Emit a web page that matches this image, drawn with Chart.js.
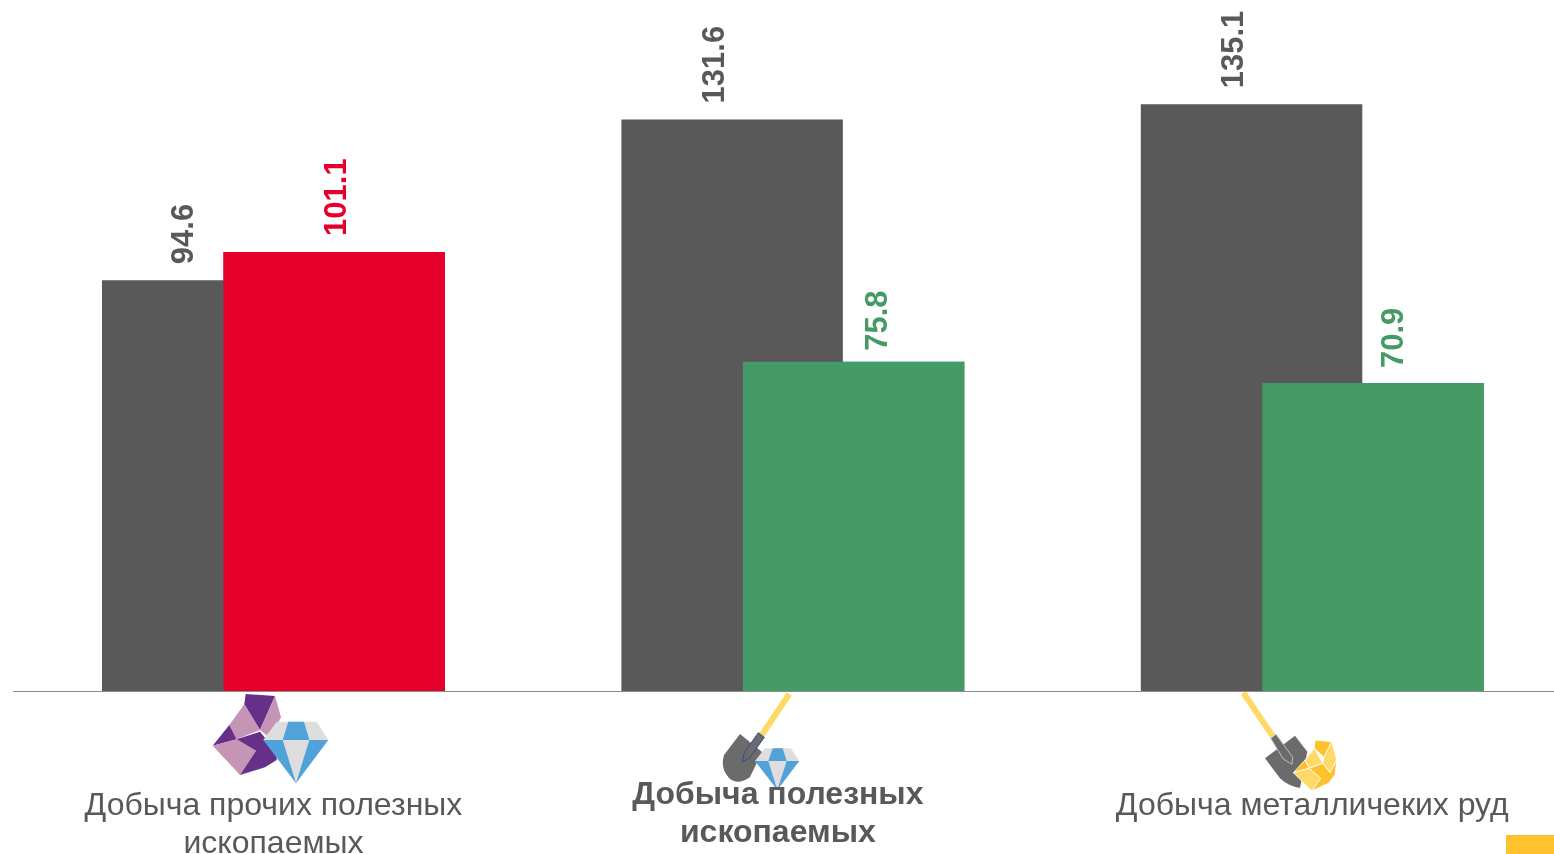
<!DOCTYPE html>
<html lang="ru">
<head>
<meta charset="utf-8">
<title>Добыча полезных ископаемых</title>
<script src="https://cdn.jsdelivr.net/npm/chart.js@4"></script>
<style>
  html, body { margin: 0; height: 100%; overflow: hidden; background: #fff; }
  #icons, #chart { position: absolute; left: 0; top: 0; }
  #marker { position: absolute; left: 1506px; top: 835px; width: 48px; height: 19px; background: #FFC12D; }
</style>
</head>
<body>
<!-- pictograms sit under the transparent canvas: the bold label runs over the diamond -->
<svg id="icons" width="1554" height="854" viewBox="0 0 1554 854">
  <g><!-- rock + diamond -->
    <polygon fill="#663089" points="245.7,694 275,696 260,730 244.3,704.3"/>
    <polygon fill="#C695B6" points="275,696 281,717.3 270,738 260,730"/>
    <polygon fill="#C695B6" points="244.3,704.3 260,730 236.7,739.3 229.3,725"/>
    <polygon fill="#663089" points="229.3,725 236.7,739.3 212.7,745.7"/>
    <polygon fill="#C695B6" points="212.7,745.7 236.7,739.3 256,750.7 240,775"/>
    <polygon fill="#663089" points="236.7,739.3 260,731.7 276.7,751.7 276.7,760 265,767.3 240,775 256,750.7"/>
    <polygon fill="#DEDEDE" points="276.7,721.7 316.7,721.7 328.3,740 263.3,740"/>
    <polygon fill="#52A2DA" points="288.3,721.7 304,721.7 309.3,740 282.7,740"/>
    <polygon fill="#52A2DA" points="263.3,740 328.3,740 296,783.3"/>
    <polygon fill="#DEDEDE" points="282.7,740 309.3,740 296,783.3"/>
  </g>
  <g><!-- shovel + diamond -->
    <line x1="789.3" y1="694" x2="761.7" y2="735" stroke="#FFD966" stroke-width="6"/>
    <path fill="#6B6B6B" d="M740,734 L762,752 L750,777 Q738,786 729,778 Q720,768 724,755 Z"/>
    <polygon fill="#6B6B6B" stroke="#2F4B8C" stroke-width="1" points="758.3,732.7 764.3,737.3 749.3,758.3 742.3,761.7 744.3,752.7"/>
    <polygon fill="#DEDEDE" points="765,748.3 790.7,748.3 799.3,761 755,761"/>
    <polygon fill="#52A2DA" points="772.7,748.3 782.7,748.3 786.7,761 768.3,761"/>
    <polygon fill="#52A2DA" points="755,761 799.3,761 777.3,790"/>
    <polygon fill="#DEDEDE" points="768.3,761 786.7,761 777.3,790"/>
  </g>
  <g><!-- shovel + gold -->
    <line x1="1243.3" y1="692.7" x2="1272.7" y2="736" stroke="#FFD966" stroke-width="6"/>
    <path fill="#6B6B6B" d="M1295,735.7 L1265,758.3 L1280,778.3 Q1288,786 1300,788 L1307.3,751.7 Z"/>
    <polygon fill="#6B6B6B" stroke="#BFBFBF" stroke-width="1" points="1270.7,738.3 1276,734.3 1292.7,757.3 1292,764.3 1283.3,759"/>
    <g stroke="#fff" stroke-width="0.8" stroke-linejoin="round">
      <polygon fill="#FFC12D" points="1315,740 1331.7,741.7 1324,757.3 1314.3,748.3"/>
      <polygon fill="#FFD966" points="1305,760 1314.3,748.3 1322.7,763.3 1309.3,768.3"/>
      <polygon fill="#FFD966" points="1331.7,741.7 1336.7,760 1330,772.7 1322.7,763.3 1324,757.3"/>
      <polygon fill="#FFC12D" points="1293.3,772.7 1305,760 1309.3,768.3"/>
      <polygon fill="#FFD966" points="1293.3,772.7 1309.3,768.3 1320.7,778.3 1311.7,791"/>
      <polygon fill="#FFC12D" points="1309.3,768.3 1322.7,763.3 1330,772.7 1336.7,760 1335,775 1328.3,783.3 1311.7,791 1320.7,778.3"/>
    </g>
  </g>
</svg>
<canvas id="chart" width="1572" height="854"></canvas>
<div id="marker"></div>

<script>
const FONT = "'Liberation Sans', Arial, sans-serif";
const INK = "#595959";
const GREY = "#595959";
const RED = "#E4002B";
const GREEN = "#459A65";

const categories = [
  ["Добыча прочих полезных", "ископаемых"],
  ["Добыча полезных", "ископаемых"],
  ["Добыча металличеких руд"],
];
const firstValues = [94.6, 131.6, 135.1];
const secondValues = [101.1, 75.8, 70.9];
const secondColors = [RED, GREEN, GREEN];

// hand placement from the original slide, px relative to the bar centre / bar top / tick
const firstLabelShift = [-28, -17, -17];
const secondLabelShift = [3, 25, 21];
const firstLabelGap = [16, 16, 16];
const secondLabelGap = [16, 11, 15];
const categoryShift = [0, -15, 0];
const categoryTop = [806.5, 795.5, 806.5];
const categoryWeight = ["normal", "bold", "normal"];

// bars overlap, but the right one of each pair has to stay in front
const frontBars = {
  id: "frontBars",
  afterDatasetsDraw(chart) {
    chart.getDatasetMeta(1).controller.draw();
  },
};

const valueLabels = {
  id: "valueLabels",
  afterDatasetsDraw(chart) {
    const { ctx } = chart;
    ctx.save();
    ctx.font = "bold 31px " + FONT;
    ctx.textAlign = "left";
    ctx.textBaseline = "middle";
    chart.data.datasets.forEach((ds, d) => {
      const shifts = d === 0 ? firstLabelShift : secondLabelShift;
      const gaps = d === 0 ? firstLabelGap : secondLabelGap;
      chart.getDatasetMeta(d).data.forEach((bar, i) => {
        ctx.save();
        ctx.translate(bar.x + shifts[i], bar.y - gaps[i]);
        ctx.rotate(-Math.PI / 2);
        ctx.fillStyle = d === 0 ? INK : secondColors[i];
        ctx.fillText(ds.data[i].toFixed(1), 0, 0);
        ctx.restore();
      });
    });
    ctx.restore();
  },
};

const categoryLabels = {
  id: "categoryLabels",
  afterDraw(chart) {
    const { ctx } = chart;
    const x = chart.scales.x;
    ctx.save();
    ctx.fillStyle = INK;
    ctx.textAlign = "center";
    ctx.textBaseline = "middle";
    categories.forEach((lines, i) => {
      ctx.font = categoryWeight[i] + " 32px " + FONT;
      lines.forEach((line, n) => {
        ctx.fillText(line, x.getPixelForValue(i) + categoryShift[i], categoryTop[i] + n * 37.5);
      });
    });
    ctx.restore();
  },
};

new Chart(document.getElementById("chart"), {
  type: "bar",
  data: {
    labels: categories,
    datasets: [
      { label: "first", data: firstValues, backgroundColor: GREY },
      { label: "second", data: secondValues, backgroundColor: secondColors },
    ],
  },
  options: {
    responsive: false,
    animation: false,
    categoryPercentage: 0.4678,
    barPercentage: 1.823,
    layout: { padding: { left: 13.75, right: 0, top: 0, bottom: 163 } },
    plugins: { legend: { display: false }, tooltip: { enabled: false } },
    scales: {
      x: {
        grid: { display: false, drawTicks: false },
        border: { color: "#8C8C8C", width: 1 },
        ticks: { display: false },
      },
      y: { display: false, min: 0, max: 159.1 },
    },
  },
  plugins: [frontBars, valueLabels, categoryLabels],
});
</script>
</body>
</html>
